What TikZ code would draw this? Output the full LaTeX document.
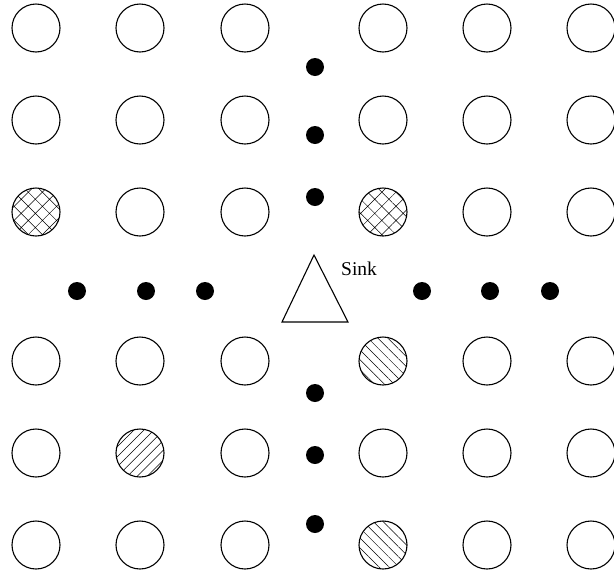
\documentclass[tikz,border=0pt]{standalone}
\usepackage{fontspec}
\setmainfont{Liberation Serif}
\usetikzlibrary{patterns.meta}

\tikzset{
  sensor/.style={draw, circle, line width=1.1pt, minimum size=48pt, inner sep=0pt},
  dot/.style={fill=black, circle, inner sep=0pt, minimum size=18pt}
}

\begin{document}
\begin{tikzpicture}[x=1pt, y=-1pt]
      \useasboundingbox (0,0) rectangle (614,574);

      % plain sensors
      \foreach \name/\x/\y in {a1/36/28, a2/140/28, a3/245/28, a4/383/28, a5/487/28, a6/591/28,
                               b1/36/120, b2/140/120, b3/245/120, b4/383/120, b5/487/120, b6/591/120,
                               c2/140/212, c3/245/212, c5/487/212, c6/591/212,
                               d1/36/361, d2/140/361, d3/245/361, d5/487/361, d6/591/361,
                               e1/36/453, e3/245/453, e4/383/453, e5/487/453, e6/591/453,
                               f1/36/545, f2/140/545, f3/245/545, f5/487/545, f6/591/545}
        \node [sensor] (\name) at (\x,\y) {};

      % hatched sensors
      \node [sensor, pattern={Hatch[angle=45, distance=10pt, line width=0.5pt]}] (c1) at (36,212) {};
      \node [sensor, pattern={Hatch[angle=45, distance=10pt, line width=0.5pt]}] (c4) at (383,212) {};
      \node [sensor, pattern={Lines[angle=45, distance=7pt, line width=0.5pt]}] (e2) at (140,453) {};
      \node [sensor, pattern={Lines[angle=-45, distance=7pt, line width=0.5pt]}] (d4) at (383,361) {};
      \node [sensor, pattern={Lines[angle=-45, distance=7pt, line width=0.5pt]}] (f4) at (383,545) {};

      % dots
      \node [dot] (v1) at (315,67) {};
      \node [dot] (v2) at (315,135) {};
      \node [dot] (v3) at (315,197) {};
      \node [dot] (v4) at (315,393) {};
      \node [dot] (v5) at (315,455) {};
      \node [dot] (v6) at (315,524) {};
      \node [dot] (h1) at (77,291) {};
      \node [dot] (h2) at (146,291) {};
      \node [dot] (h3) at (205,291) {};
      \node [dot] (h4) at (422,291) {};
      \node [dot] (h5) at (490,291) {};
      \node [dot] (h6) at (550,291) {};

      % sink
      \coordinate (top) at (314,255);
      \coordinate (right) at (348,322);
      \coordinate (left) at (282,322);
      \draw [line width=1.1pt, line join=miter] (top) -- (right) -- (left) -- cycle;
      \node [anchor=base west, inner sep=0pt, font=\fontsize{19.5}{22}\selectfont] (sink) at (341,275) {Sink};

  \end{tikzpicture}
\end{document}
